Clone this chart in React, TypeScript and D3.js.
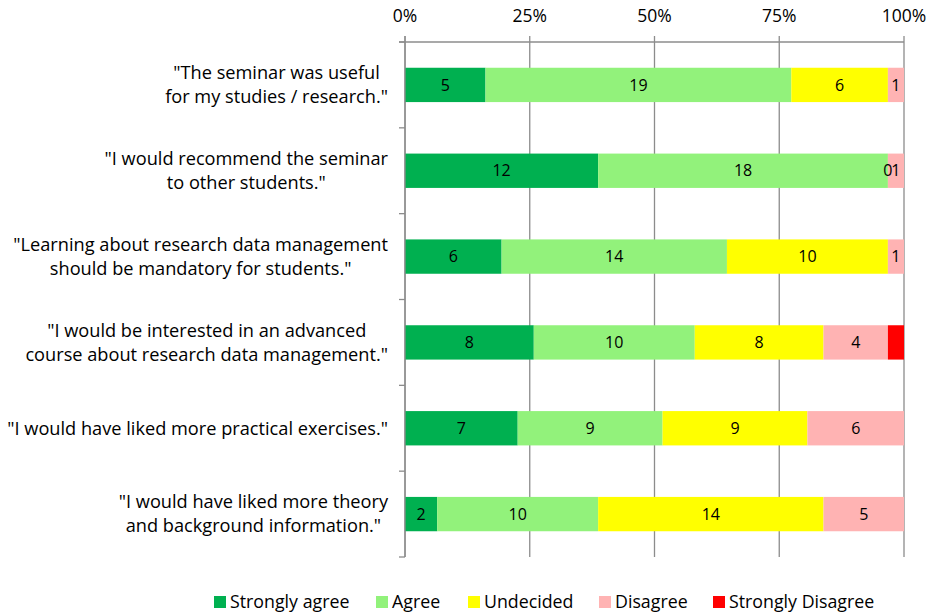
import React, { useEffect, useRef } from 'react';
import * as d3 from 'd3';

const categories = [
  ['"The seminar was useful', 'for my studies / research."'],
  ['"I would recommend the seminar', 'to other students."'],
  ['"Learning about research data management', 'should be mandatory for students."'],
  ['"I would be interested in an advanced', 'course about research data management."'],
  ['"I would have liked more practical exercises."'],
  ['"I would have liked more theory', 'and background information."'],
];

const seriesNames = ['Strongly agree', 'Agree', 'Undecided', 'Disagree', 'Strongly Disagree'];
const seriesColors = ['#00B050', '#92F27B', '#FFFF00', '#FFB3B3', '#FF0000'];

// counts per statement, one array per answer
const stronglyAgree = [5, 12, 6, 8, 7, 2];
const agree = [19, 18, 14, 10, 9, 10];
const undecided = [6, 0, 10, 8, 9, 14];
const disagree = [1, 1, 1, 4, 6, 5];
const stronglyDisagree = [null, null, null, 1, null, null];

const tickValues = [0, 0.25, 0.5, 0.75, 1];

const FONT = '"Open Sans", Lato, sans-serif';

const App = () => {
  const svgRef = useRef(null);
  const width = 930;
  const height = 615;

  useEffect(() => {
    const svg = d3.select(svgRef.current);
    svg.selectAll('*').remove();

    const margin = { top: 42, left: 405, right: 26, bottom: 58 };
    const x = d3.scaleLinear().domain([0, 1]).range([margin.left, width - margin.right]);
    const y = d3.scaleBand()
      .domain(categories.map((d, i) => String(i)))
      .range([margin.top, height - margin.bottom])
      .paddingInner(0.6)
      .paddingOuter(0.3);

    const series = [stronglyAgree, agree, undecided, disagree, stronglyDisagree];
    const rows = categories.map((c, i) => {
      const row = { key: String(i) };
      seriesNames.forEach((s, k) => { row[s] = series[k][i] || 0; });
      return row;
    });
    const stack = d3.stack().keys(seriesNames).offset(d3.stackOffsetExpand);
    const stacked = stack(rows);

    const axisColor = '#8c8c8c';

    // gridlines
    svg.append('g').selectAll('line')
      .data(tickValues)
      .enter()
      .append('line')
      .attr('x1', d => x(d))
      .attr('x2', d => x(d))
      .attr('y1', margin.top - 6)
      .attr('y2', height - margin.bottom)
      .attr('stroke', axisColor)
      .attr('stroke-width', 1.3);

    // top axis line
    svg.append('line')
      .attr('x1', margin.left - 6)
      .attr('x2', x(1))
      .attr('y1', margin.top)
      .attr('y2', margin.top)
      .attr('stroke', axisColor)
      .attr('stroke-width', 1.3);

    // left axis ticks at band boundaries
    const step = y.step();
    const boundaries = d3.range(categories.length + 1).map(i => margin.top + i * step);
    svg.append('g').selectAll('line')
      .data(boundaries)
      .enter()
      .append('line')
      .attr('x1', margin.left - 6)
      .attr('x2', margin.left)
      .attr('y1', d => d)
      .attr('y2', d => d)
      .attr('stroke', axisColor)
      .attr('stroke-width', 1.3);

    svg.append('g').selectAll('text')
      .data(tickValues)
      .enter()
      .append('text')
      .attr('x', d => x(d))
      .attr('y', 22)
      .attr('text-anchor', 'middle')
      .attr('font-family', FONT)
      .attr('font-size', 17.5)
      .attr('fill', '#000')
      .text(d => d3.format('.0%')(d));

    // bars
    const layers = svg.append('g').selectAll('g')
      .data(stacked)
      .enter()
      .append('g')
      .attr('fill', (d, i) => seriesColors[i]);

    layers.selectAll('rect')
      .data(d => d)
      .enter()
      .append('rect')
      .attr('x', d => x(d[0]))
      .attr('width', d => x(d[1]) - x(d[0]))
      .attr('y', d => y(d.data.key))
      .attr('height', y.bandwidth());

    // value labels (first four answers only), drawn above all bars
    const labelData = [];
    stacked.slice(0, 4).forEach((layer, i) => {
      layer.forEach(v => {
        const val = series[i][+v.data.key];
        if (val !== null && val !== undefined) labelData.push({ v, val });
      });
    });
    svg.append('g').selectAll('text')
      .data(labelData)
      .enter()
      .append('text')
      .attr('x', d => (x(d.v[0]) + x(d.v[1])) / 2)
      .attr('y', d => y(d.v.data.key) + y.bandwidth() / 2)
      .attr('dy', '0.35em')
      .attr('text-anchor', 'middle')
      .attr('font-family', FONT)
      .attr('font-size', 16)
      .attr('fill', '#000')
      .text(d => d.val);

    // left axis line
    svg.append('line')
      .attr('x1', margin.left)
      .attr('x2', margin.left)
      .attr('y1', margin.top - 6)
      .attr('y2', height - margin.bottom)
      .attr('stroke', axisColor)
      .attr('stroke-width', 1.3);

    // category labels, centered block with right edge near the axis
    const lineH = 24;
    categories.forEach((lines, i) => {
      const g = svg.append('g');
      const cy = y(String(i)) + y.bandwidth() / 2;
      const top = cy - ((lines.length - 1) * lineH) / 2;
      const texts = lines.map((l, j) => g.append('text')
        .attr('x', 0)
        .attr('y', top + j * lineH)
        .attr('dy', '0.35em')
        .attr('text-anchor', 'middle')
        .attr('font-family', FONT)
        .attr('font-size', 18.2)
        .attr('fill', '#000')
        .text(l));
      const maxW = d3.max(texts, t => t.node().getComputedTextLength());
      g.attr('transform', `translate(${388 - maxW / 2},0)`);
    });

    // legend
    const legendX = [214, 376, 468, 599, 713];
    const legend = svg.append('g').selectAll('g')
      .data(seriesNames)
      .enter()
      .append('g')
      .attr('transform', (d, i) => `translate(${legendX[i]},602)`);
    legend.append('rect')
      .attr('x', 0)
      .attr('y', -6)
      .attr('width', 12)
      .attr('height', 12)
      .attr('fill', (d, i) => seriesColors[i]);
    legend.append('text')
      .attr('x', 16)
      .attr('y', 0)
      .attr('dy', '0.35em')
      .attr('font-family', FONT)
      .attr('font-size', 17.8)
      .attr('fill', '#000')
      .text(d => d);
  }, []);

  return (
    <svg ref={svgRef} width={width} height={height}
      style={{ position: 'absolute', left: 0, top: 0, background: '#fff' }}></svg>
  );
};

export default App;
